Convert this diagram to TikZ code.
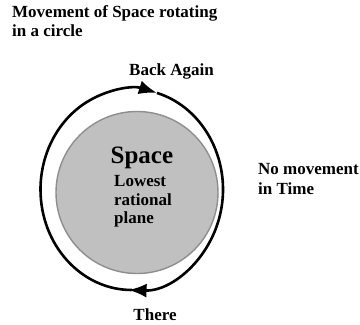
\documentclass[tikz,border=0pt]{standalone}
\usepackage{fontspec}
\setmainfont{Liberation Serif}
\usetikzlibrary{arrows.meta}
\definecolor{discfill}{HTML}{C0C0C0}
\definecolor{discedge}{HTML}{8E8E8E}
\begin{document}
\begin{tikzpicture}[x=1pt,y=1pt,
  lbl/.style={inner sep=0pt,anchor=base west,font=\bfseries\fontsize{17}{19}\selectfont},
  bigl/.style={inner sep=0pt,anchor=base west,font=\bfseries\fontsize{25}{28}\selectfont},
  orbit/.style={line width=2.6pt,-{Latex[length=18pt,width=14pt]}},
  disc/.style={fill=discfill,draw=discedge,line width=1.4pt}]
\useasboundingbox (0,0) rectangle (360,325);
\coordinate (oc) at (131.75,135.5);
\coordinate (dc) at (137,132.5);
% inner disc
\draw[disc] (dc) circle[radius=81];
% orbit arcs
\draw[orbit] (oc) ++(0,-100.5) coordinate (bot)
  arc[start angle=270, end angle=74, x radius=91.25, y radius=100.5] coordinate (topt);
\draw[orbit] (topt) arc[start angle=74, end angle=-92, x radius=91.25, y radius=100.5];
% labels
\node[lbl] (t1) at (12,307.5) {Movement of Space rotating};
\node[lbl] (t2) at (12,289) {in a circle};
\node[lbl] (back) at (129,250) {Back Again};
\node[lbl] (nm1) at (258,150) {No movement};
\node[lbl] (nm2) at (258,130) {in Time};
\node[bigl] (sp) at (110.5,161) {Space};
\node[lbl] (l1) at (114,139) {Lowest};
\node[lbl] (l2) at (114,120) {rational};
\node[lbl] (l3) at (114,101) {plane};
\node[lbl] (there) at (133.3,5) {There};
\end{tikzpicture}
\end{document}
